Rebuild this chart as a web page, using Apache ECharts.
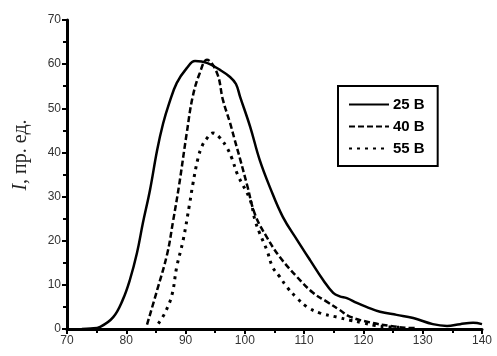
<!DOCTYPE html>
<html>
<head>
<meta charset="utf-8">
<script src="https://cdn.jsdelivr.net/npm/echarts@6/dist/echarts.min.js"></script>
<style>
html,body{margin:0;padding:0;background:#fff;}
#chart{width:497px;height:356px;}
</style>
</head>
<body>
<div id="chart"></div>
<script>
// Data
var names = ['25 В', '40 В', '55 В'];

var x25 = [72.5,74,75.6,77.8,79.4,80.6,81.8,82.8,84,85.2,86.2,87.2,88.5,90.2,91.6,93.6,95.8,97.5,98.5,99.2,100.9,102.5,104.2,106.4,108.8,111,113.2,114.9,116,117.2,118.9,120.5,122.8,125.6,128.4,131.7,134.1,136.3,138.5,140];
var y25 = [0,0.1,0.5,2.7,6.6,11.1,17.2,24,31.5,40.5,46.5,51,55.7,59.1,60.7,60.3,58.7,57.1,55.5,52.6,45.8,38.3,32.2,25.4,20.2,15.6,11.1,8.2,7.4,7,5.9,5,3.9,3.2,2.5,1.1,0.7,1.1,1.4,1.1];

var x40 = [83.5,85.2,86.9,87.9,88.9,90.2,91.2,92.4,93.6,95.3,96.3,97.5,98.3,99.2,100.4,101.7,103.7,105.9,108.8,111.5,113.8,116,117.7,121.1,124.5,127,129];
var y40 = [1,8.8,17,24.5,32.5,44.4,52.6,58,61,58,51.9,46.7,42.8,38.5,32.5,26,20.8,16.3,11.8,8.2,6.2,4.3,2.8,1.5,0.7,0.3,0.2];

var x55 = [85.4,86.5,87.7,88.5,89.6,90.7,91.2,92.1,92.8,93.5,94.6,95.8,97,97.8,98.8,100.9,101.7,102.5,103.7,104.7,105.9,107.1,108.8,110.5,112.7,115.5,117.7,119.9,122,124,126];
var y55 = [1.2,3.6,7.7,14,20.2,28.5,32.6,38.7,41.5,43,44.4,43.3,41,38.7,34.9,29.2,24.7,21.7,17.9,14,11.8,9.5,7,5,3.6,2.7,2,1.4,0.8,0.5,0.4];

function pairs(xs, ys) {
  return xs.map(function (x, i) { return [x, ys[i]]; });
}

var chart = echarts.init(document.getElementById('chart'), null, {renderer: 'canvas'});
var axisLabelStyle = {color: '#333', fontSize: 12, fontFamily: 'Liberation Sans, Arial, sans-serif'};

chart.setOption({
  animation: false,
  backgroundColor: '#fff',
  grid: {left: 67, right: 15, top: 20, bottom: 27, containLabel: false},
  xAxis: {
    type: 'value', min: 70, max: 140, interval: 10,
    axisLine: {show: true, onZero: false, lineStyle: {color: '#000', width: 3}},
    axisTick: {show: true, length: 5, lineStyle: {color: '#000', width: 2}},
    minorTick: {show: true, splitNumber: 2, length: 4, lineStyle: {color: '#000', width: 2}},
    splitLine: {show: false},
    axisLabel: Object.assign({margin: 6}, axisLabelStyle)
  },
  yAxis: {
    type: 'value', min: 0, max: 70, interval: 10,
    axisLine: {show: true, onZero: false, lineStyle: {color: '#000', width: 3}},
    axisTick: {show: true, length: 5, lineStyle: {color: '#000', width: 2}},
    minorTick: {show: true, splitNumber: 2, length: 4, lineStyle: {color: '#000', width: 2}},
    splitLine: {show: false},
    axisLabel: Object.assign({margin: 6}, axisLabelStyle)
  },
  legend: {
    orient: 'vertical',
    left: 338, top: 86,
    borderColor: '#000', borderWidth: 2,
    padding: [11, 13, 10, 10],
    itemWidth: 40, itemHeight: 14, itemGap: 7,
    itemStyle: {opacity: 0},
    textStyle: {color: '#000', fontSize: 15, fontWeight: 'bold', fontFamily: 'Liberation Sans, Arial, sans-serif', padding: [0, 0, 0, -1], lineHeight: 14},
    data: names
  },
  graphic: [{
    type: 'text',
    x: 21, y: 155,
    rotation: Math.PI / 2,
    style: {
      text: '{i|I}, пр. ед.',
      rich: {i: {fontStyle: 'italic', fontFamily: 'Liberation Serif, Times New Roman, serif', fontSize: 20, fill: '#222'}},
      fontFamily: 'Liberation Serif, Times New Roman, serif',
      fontSize: 20,
      fill: '#222',
      align: 'center',
      verticalAlign: 'middle'
    }
  }],
  series: [
    {name: names[0], type: 'line', smooth: 0.4, symbol: 'none', data: pairs(x25, y25),
     lineStyle: {color: '#000', width: 2.5, type: 'solid'}, itemStyle: {color: '#000'}},
    {name: names[1], type: 'line', smooth: 0.4, symbol: 'none', data: pairs(x40, y40),
     lineStyle: {color: '#000', width: 2.5, type: [6, 3]}, itemStyle: {color: '#000'}},
    {name: names[2], type: 'line', smooth: 0.4, symbol: 'none', data: pairs(x55, y55),
     lineStyle: {color: '#000', width: 3, type: [3, 5]}, itemStyle: {color: '#000'}}
  ]
});
</script>
</body>
</html>
